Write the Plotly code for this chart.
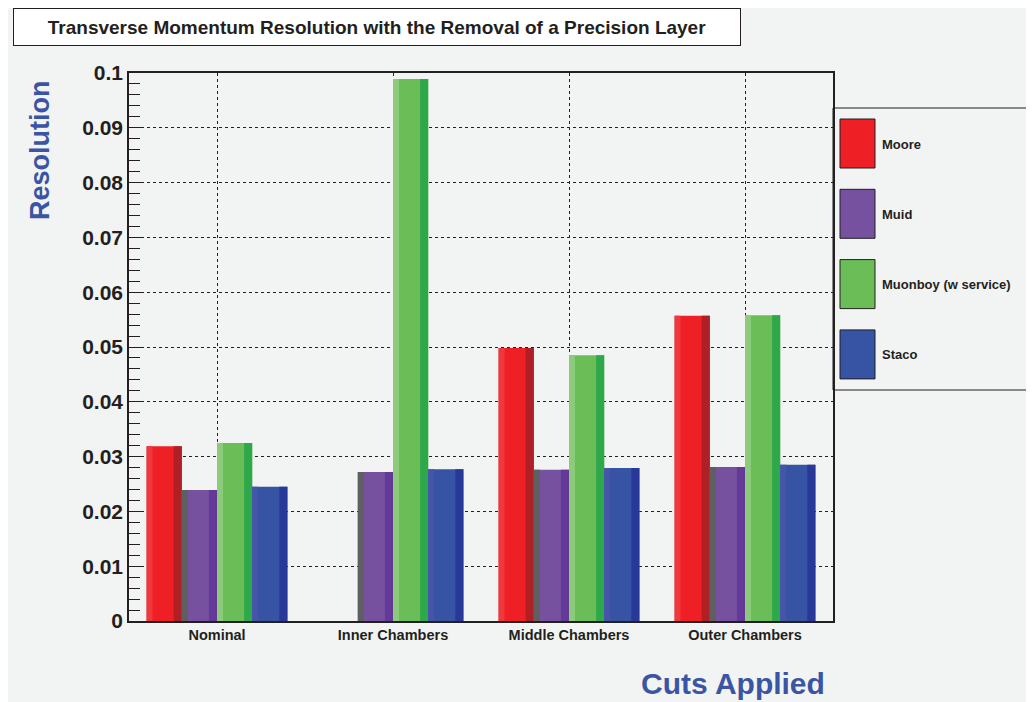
import plotly.graph_objects as go

categories = ["Nominal", "Inner Chambers", "Middle Chambers", "Outer Chambers"]
series_names = ["Moore", "Muid", "Muonboy (w service)", "Staco"]
moore = [0.0319, 0.0, 0.0498, 0.0557]
muid = [0.0239, 0.0272, 0.0276, 0.0281]
muonboy = [0.0325, 0.0989, 0.0485, 0.0558]
staco = [0.0245, 0.0277, 0.0279, 0.0285]
series_values = [moore, muid, muonboy, staco]

# (light strip, main, dark strip)
colors = [
    ("#ef373d", "#ee1f25", "#b01f24"),
    ("#5f5f62", "#7551a0", "#643a98"),
    ("#8dca7c", "#6bbe57", "#2ea84b"),
    ("#4456a8", "#3753a4", "#283896"),
]

BG = "#f2f4f3"
INK = "#231f20"
BLUE = "#3a55a4"
FONT = "Liberation Sans"

W, H = 1034, 702
OFF = 8  # page body margin
# plot area in screen pixels
SL, SR, ST, SB = 129, 833, 73, 621
L, R, T, B = SL - OFF, SR - OFF, ST - OFF, SB - OFF

bar_w = 0.2
light_w = 0.034
dark_w = 0.046

fig = go.Figure()
for i, (name, vals) in enumerate(zip(series_names, series_values)):
    light, main, dark = colors[i]
    off = -0.4 + bar_w * i
    fig.add_trace(go.Bar(x=categories, y=vals, name=name, offset=off, width=bar_w,
                         marker=dict(color=main, line=dict(width=0)), showlegend=False))
    fig.add_trace(go.Bar(x=categories, y=vals, offset=off, width=light_w,
                         marker=dict(color=light, line=dict(width=0)), showlegend=False,
                         hoverinfo="skip"))
    fig.add_trace(go.Bar(x=categories, y=vals, offset=off + bar_w - dark_w, width=dark_w,
                         marker=dict(color=dark, line=dict(width=0)), showlegend=False,
                         hoverinfo="skip"))


def px_x(p):
    """screen x pixel -> paper x"""
    return (p - SL) / (SR - SL)


def px_y(p):
    """screen y pixel -> paper y"""
    return (SB - p) / (SB - ST)


shapes = []
annotations = []

# legend box
shapes.append(dict(type="rect", xref="paper", yref="paper",
                   x0=px_x(833), x1=px_x(1030), y0=px_y(390), y1=px_y(108),
                   line=dict(color=INK, width=1), fillcolor=BG, layer="below"))
for i, name in enumerate(series_names):
    top = 119 + 70.3 * i
    shapes.append(dict(type="rect", xref="paper", yref="paper",
                       x0=px_x(840), x1=px_x(875), y0=px_y(top + 49), y1=px_y(top),
                       line=dict(color=INK, width=1), fillcolor=colors[i][1]))
    annotations.append(dict(text=name, xref="paper", yref="paper",
                            x=px_x(880), y=px_y(top + 25), xanchor="left", yanchor="middle",
                            showarrow=False,
                            font=dict(family=FONT, size=13, color=INK, weight="bold")))

# title box
annotations.append(dict(text="Transverse Momentum Resolution with the Removal of a Precision Layer",
                        xref="paper", yref="paper", x=px_x(376.5), y=px_y(27),
                        xanchor="center", yanchor="middle", showarrow=False,
                        width=724, height=34, bgcolor="white", bordercolor=INK, borderwidth=1,
                        font=dict(family=FONT, size=19, color=INK, weight="bold")))
# axis titles
annotations.append(dict(text="Resolution", xref="paper", yref="paper",
                        x=px_x(40), y=px_y(78), xanchor="center", yanchor="top",
                        textangle=-90, showarrow=False,
                        font=dict(family=FONT, size=27, color=BLUE, weight="bold")))
annotations.append(dict(text="Cuts Applied", xref="paper", yref="paper",
                        x=px_x(827), y=px_y(683), xanchor="right", yanchor="middle",
                        showarrow=False,
                        font=dict(family=FONT, size=30, color=BLUE, weight="bold")))

fig.update_layout(
    width=W, height=H,
    margin=dict(l=L, r=W - R, t=T, b=H - B, pad=0),
    paper_bgcolor=BG, plot_bgcolor=BG,
    barmode="overlay",
    showlegend=False,
    shapes=shapes,
    annotations=annotations,
    font=dict(family=FONT, color=INK),
)
fig.update_xaxes(
    type="category", range=[-0.5, 3.5],
    showline=True, linecolor=INK, linewidth=1.5, mirror=True,
    showgrid=True, gridcolor="#222222", griddash="dot", gridwidth=1,
    ticks="", tickfont=dict(family=FONT, size=14.5, color=INK, weight="bold"),
    zeroline=False,
)
fig.update_yaxes(
    range=[0, 0.1], tick0=0, dtick=0.01,
    showline=True, linecolor=INK, linewidth=1.5, mirror=True,
    showgrid=True, gridcolor="#222222", griddash="dot", gridwidth=1,
    ticks="inside", ticklen=14, tickcolor=INK, tickwidth=1,
    minor=dict(dtick=0.002, ticks="inside", ticklen=11, tickcolor=INK, showgrid=False),
    tickfont=dict(family=FONT, size=21, color=INK, weight="bold"),
    zeroline=False,
)

fig.write_html("out.html")
